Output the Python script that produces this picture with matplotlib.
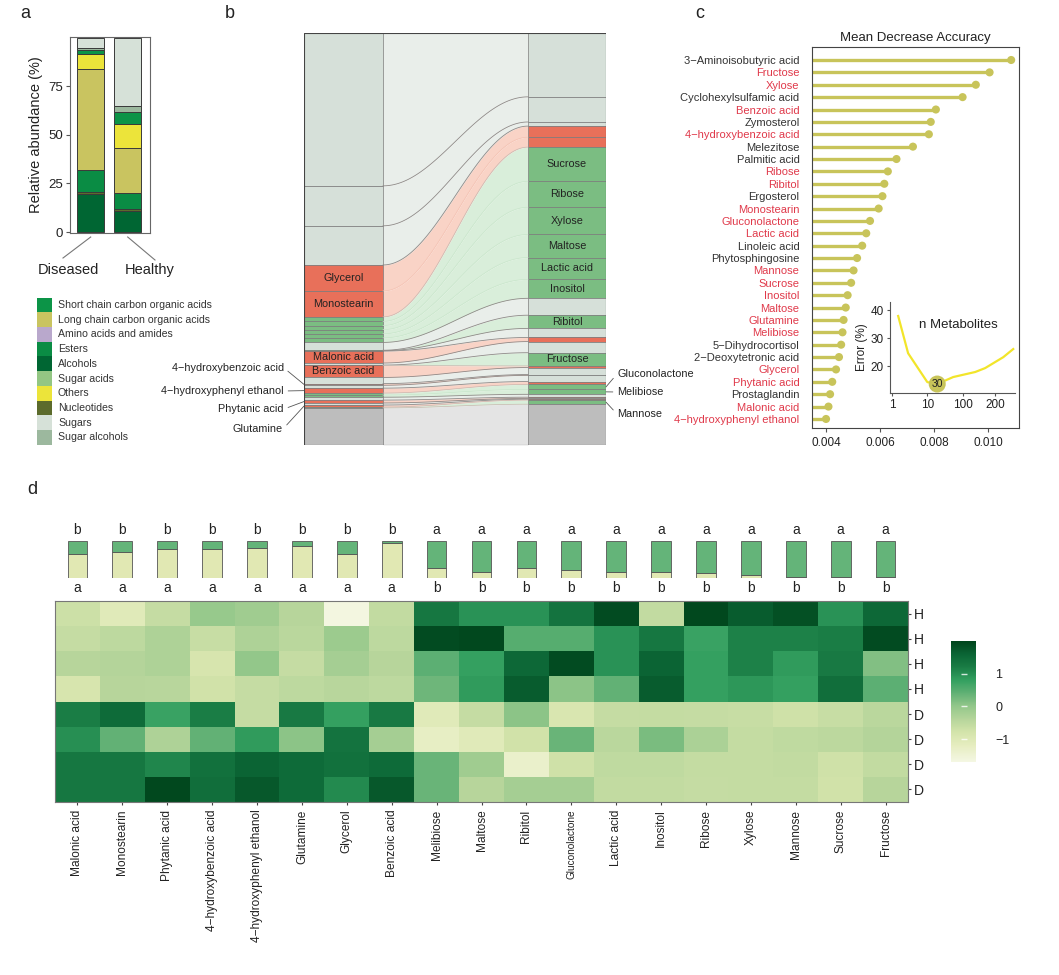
"""Metabolite composition, alluvial shift, RF importance and heatmap figure."""
import matplotlib

matplotlib.use("Agg")
import matplotlib.pyplot as plt
import numpy as np
from matplotlib.colors import LinearSegmentedColormap
from matplotlib.patches import Rectangle

plt.rcParams["font.family"] = ["Liberation Sans", "DejaVu Sans"]
plt.rcParams["axes.unicode_minus"] = True

W, H = 1059, 975
TXT = "#222222"

# ---- panel a: class composition -------------------------------------------
stack_classes = ["Alcohols", "Nucleotides", "Esters", "Long chain carbon organic acids",
                 "Others", "Short chain carbon organic acids", "Sugar alcohols", "Sugars"]
diseased = [19.6, 0.8, 11.6, 51.7, 7.6, 2.0, 1.4, 4.8]
healthy = [11.0, 0.7, 8.5, 23.0, 12.1, 6.3, 3.2, 34.7]
legend_classes = ["Short chain carbon organic acids", "Long chain carbon organic acids",
                  "Amino acids and amides", "Esters", "Alcohols", "Sugar acids", "Others",
                  "Nucleotides", "Sugars", "Sugar alcohols"]
class_colors = {
    "Short chain carbon organic acids": "#0c9447",
    "Long chain carbon organic acids": "#c9c460",
    "Amino acids and amides": "#b9a8cc",
    "Esters": "#0a8c44",
    "Alcohols": "#006633",
    "Sugar acids": "#93c683",
    "Others": "#ece43a",
    "Nucleotides": "#5c6b2c",
    "Sugars": "#d6e1d8",
    "Sugar alcohols": "#9cb89e",
}

# ---- panel b: alluvial (top to bottom), abundance % in Diseased / Healthy ---
flow_names = ["", "", "", "Glycerol", "Monostearin", "Sucrose", "Ribose", "Xylose",
              "Maltose", "Lactic acid", "Inositol", "", "Ribitol", "", "Malonic acid", "",
              "Fructose", "Benzoic acid", "", "4−hydroxybenzoic acid", "",
              "4−hydroxyphenyl ethanol", "Gluconolactone", "Melibiose", "", "Phytanic acid",
              "", "Glutamine", "Mannose", ""]
flow_groups = ["s", "s", "s", "D", "D", "H", "H", "H", "H", "H", "H", "s", "H", "s", "D", "s",
               "H", "D", "s", "D", "s", "D", "H", "H", "s", "D", "s", "D", "H", "o"]
left_abund = [37.1, 9.7, 9.5, 6.3, 6.3, 1.1, 1.0, 1.0, 1.0, 1.0, 1.1, 1.9, 0.1, 0.1, 2.9, 0.5,
              0.1, 2.9, 1.5, 0.4, 0.7, 1.2, 0.5, 0.5, 0.7, 0.7, 0.5, 0.5, 0.2, 9.0]
right_abund = [15.5, 6.1, 1.0, 2.7, 2.4, 8.3, 6.3, 6.6, 5.6, 5.3, 4.6, 4.1, 3.2, 2.2, 1.0, 2.7,
               3.2, 0.4, 1.7, 0.2, 1.5, 0.7, 1.2, 1.2, 0.7, 0.3, 0.2, 0.2, 1.0, 9.9]
left_inner = ["Glycerol", "Monostearin", "Malonic acid", "Benzoic acid"]
right_inner = ["Sucrose", "Ribose", "Xylose", "Maltose", "Lactic acid", "Inositol", "Ribitol",
               "Fructose"]
left_outer = ["4−hydroxybenzoic acid", "4−hydroxyphenyl ethanol", "Phytanic acid", "Glutamine"]
right_outer = ["Gluconolactone", "Melibiose", "Mannose"]

# ---- panel c: random forest importance -------------------------------------
rf_names = ["3−Aminoisobutyric acid", "Fructose", "Xylose", "Cyclohexylsulfamic acid",
            "Benzoic acid", "Zymosterol", "4−hydroxybenzoic acid", "Melezitose",
            "Palmitic acid", "Ribose", "Ribitol", "Ergosterol", "Monostearin",
            "Gluconolactone", "Lactic acid", "Linoleic acid", "Phytosphingosine", "Mannose",
            "Sucrose", "Inositol", "Maltose", "Glutamine", "Melibiose", "5−Dihydrocortisol",
            "2−Deoxytetronic acid", "Glycerol", "Phytanic acid", "Prostaglandin",
            "Malonic acid", "4−hydroxyphenyl ethanol"]
rf_mda = [0.01086, 0.01006, 0.00955, 0.00906, 0.00807, 0.00788, 0.00781, 0.00722, 0.00661,
          0.00629, 0.00616, 0.00609, 0.00595, 0.00563, 0.00549, 0.00534, 0.00515, 0.00502,
          0.00493, 0.00480, 0.00473, 0.00465, 0.00461, 0.00456, 0.00448, 0.00437, 0.00423,
          0.00415, 0.00409, 0.00400]
rf_marked = [0, 1, 1, 0, 1, 0, 1, 0, 0, 1, 1, 0, 1, 1, 1, 0, 0, 1, 1, 1, 1, 1, 1, 0, 0, 1, 1,
             0, 1, 1]
inset_pos = [0.17, 0.45, 0.99, 1.27, 1.72, 2.34, 2.62, 3.13, 3.41]
inset_err = [37.9, 24.6, 14.3, 13.6, 16.1, 17.9, 19.3, 23.2, 26.1]
inset_ticks = [0, 0.99, 2.0, 2.9]
inset_ticklabels = ["1", "10", "100", "200"]
best_idx = 3

# ---- panel d: heatmap -------------------------------------------------------
hm_cols = ["Malonic acid", "Monostearin", "Phytanic acid", "4−hydroxybenzoic acid",
           "4−hydroxyphenyl ethanol", "Glutamine", "Glycerol", "Benzoic acid", "Melibiose",
           "Maltose", "Ribitol", "Gluconolactone", "Lactic acid", "Inositol", "Ribose",
           "Xylose", "Mannose", "Sucrose", "Fructose"]
hm_rows = ["H", "H", "H", "H", "D", "D", "D", "D"]
hm_vals = np.array([
    [-0.7, -1.05, -0.6, -0.05, -0.15, -0.4, -1.65, -0.55, 1.3, 0.95, 0.95, 1.35, 1.9, -0.55, 1.95, 1.7, 1.85, 0.95, 1.55],
    [-0.6, -0.5, -0.3, -0.62, -0.3, -0.45, -0.1, -0.5, 1.9, 1.95, 0.5, 0.5, 0.95, 1.3, 0.75, 1.15, 1.15, 1.2, 1.9],
    [-0.4, -0.38, -0.3, -0.85, 0.0, -0.6, -0.2, -0.4, 0.45, 0.8, 1.55, 1.9, 0.95, 1.6, 0.8, 1.15, 0.85, 1.25, 0.15],
    [-0.85, -0.4, -0.42, -0.75, -0.6, -0.5, -0.42, -0.5, 0.3, 0.85, 1.7, 0.05, 0.4, 1.7, 0.8, 0.9, 0.8, 1.45, 0.45],
    [1.2, 1.5, 0.75, 1.2, -0.6, 1.25, 0.8, 1.25, -1.05, -0.6, 0.05, -0.9, -0.6, -0.58, -0.6, -0.62, -0.72, -0.62, -0.45],
    [1.0, 0.4, -0.3, 0.4, 0.85, 0.05, 1.35, -0.2, -1.25, -1.05, -0.75, 0.35, -0.45, 0.2, -0.28, -0.58, -0.52, -0.48, -0.38],
    [1.3, 1.3, 1.1, 1.4, 1.6, 1.5, 1.4, 1.5, 0.35, -0.15, -1.35, -0.72, -0.52, -0.52, -0.58, -0.58, -0.55, -0.72, -0.55],
    [1.3, 1.3, 1.95, 1.45, 1.75, 1.5, 1.05, 1.75, 0.35, -0.4, -0.2, -0.2, -0.55, -0.55, -0.6, -0.58, -0.58, -0.75, -0.4],
])
healthy_frac = [0.34, 0.29, 0.22, 0.21, 0.18, 0.125, 0.34, 0.06, 0.74, 0.85, 0.73, 0.78, 0.85,
                0.84, 0.87, 0.93, 0.98, 0.96, 0.97]
top_letters = ["b"] * 8 + ["a"] * 11
bottom_letters = ["a"] * 8 + ["b"] * 11


def box(x0, y0, x1, y1):
    return [x0 / W, 1 - y1 / H, (x1 - x0) / W, (y1 - y0) / H]


fig = plt.figure(figsize=(W / 100, H / 100), dpi=100)
bg = fig.add_axes([0, 0, 1, 1])
bg.set_xlim(0, W)
bg.set_ylim(H, 0)
bg.axis("off")

for letter, (lx, ly) in zip("abcd", [(25, 14), (230, 14), (700, 14), (32, 490)]):
    bg.text(lx, ly, letter, fontsize=13, ha="center", va="center", color=TXT)

# ---- panel a ----------------------------------------------------------------
ax = fig.add_axes(box(70, 37, 150, 233))
bottoms = np.zeros(2)
for cls, d, h in zip(stack_classes, diseased, healthy):
    ax.bar([1, 2], [d, h], bottom=bottoms, width=0.73, color=class_colors[cls],
           edgecolor="#3a3a3a", linewidth=0.7)
    bottoms += [d, h]
ax.set_xlim(0.446, 2.61)
ax.set_ylim(-0.5, 100.2)
ax.set_yticks([0, 25, 50, 75])
ax.set_xticks([])
ax.tick_params(axis="y", labelsize=9.5, length=3, color="#555", labelcolor=TXT, pad=2)
for sp in ax.spines.values():
    sp.set_color("#666")
    sp.set_linewidth(0.8)
ax.set_ylabel("Relative abundance (%)", fontsize=10.5, color=TXT, labelpad=4)

bg.plot([90.7, 63], [237, 258], color="#777", lw=0.8)
bg.plot([127.7, 155], [237, 260], color="#777", lw=0.8)
bg.text(68, 270, "Diseased", fontsize=10.5, ha="center", va="center", color=TXT)
bg.text(150, 270, "Healthy", fontsize=10.5, ha="center", va="center", color=TXT)

for i, cls in enumerate(legend_classes):
    yc = 305 + i * 14.7
    bg.add_patch(Rectangle((37, yc - 7.35), 15, 14.7, facecolor=class_colors[cls],
                           edgecolor="none"))
    bg.text(58, yc, cls, fontsize=7.6, va="center", ha="left", color="#333")

# ---- panel b ----------------------------------------------------------------
block_col = {"s": "#d6e0d9", "D": "#e8705a", "H": "#7bbd82", "o": "#bdbdbd"}
flow_col = {"s": "#e9eeea", "D": "#f9d3c6", "H": "#d9eeda", "o": "#e4e4e4"}
faint_col = {"D": "#f4c2b3", "H": "#c9e6cb", "o": "#d6d6d6"}
axb = fig.add_axes(box(304, 33, 606, 445))
axb.set_xlim(0, 1)
axb.set_ylim(100, 0)
axb.axis("off")
lcol = (383 - 304) / 302
rcol = (528 - 304) / 302
cumL = np.concatenate([[0], np.cumsum(left_abund)])
cumR = np.concatenate([[0], np.cumsum(right_abund)])
cumL *= 100 / cumL[-1]
cumR *= 100 / cumR[-1]
t = np.linspace(0, 1, 120)
xs = lcol + (rcol - lcol) * t
s = (1 - np.cos(np.pi * t)) / 2
for i, g in enumerate(flow_groups):
    top = cumL[i] + (cumR[i] - cumL[i]) * s
    bot = cumL[i + 1] + (cumR[i + 1] - cumL[i + 1]) * s
    axb.fill_between(xs, top, bot, color=flow_col[g], lw=0)
for i in range(1, len(flow_groups)):
    above, below = flow_groups[i - 1], flow_groups[i]
    if above == below and above != "s":
        col, lw = faint_col[above], 0.5
    elif "o" in (above, below) or {above, below} == {"D", "H"}:
        col, lw = "#c9b8b0", 0.5
    else:
        col, lw = "#8f8a88", 0.6
    axb.plot(xs, cumL[i] + (cumR[i] - cumL[i]) * s, color=col, lw=lw)
for i, g in enumerate(flow_groups):
    axb.add_patch(Rectangle((0, cumL[i]), lcol, cumL[i + 1] - cumL[i], facecolor=block_col[g],
                            edgecolor="#7a7a7a", lw=0.5))
    axb.add_patch(Rectangle((rcol, cumR[i]), 1 - rcol, cumR[i + 1] - cumR[i],
                            facecolor=block_col[g], edgecolor="#7a7a7a", lw=0.5))
axb.add_patch(Rectangle((0, 0), 1, 100, fill=False, edgecolor="#444", lw=0.8))
for name in left_inner:
    i = flow_names.index(name)
    axb.text(lcol / 2, (cumL[i] + cumL[i + 1]) / 2, name, fontsize=7.8, ha="center",
             va="center", color=TXT)
for name in right_inner:
    i = flow_names.index(name)
    axb.text((rcol + 1) / 2, (cumR[i] + cumR[i + 1]) / 2, name, fontsize=7.8, ha="center",
             va="center", color=TXT)
for name, (tx, ty) in zip(left_outer, [(284, 368), (284, 391), (284, 409), (283, 429)]):
    i = flow_names.index(name)
    axb.annotate(name, xy=(0, (cumL[i] + cumL[i + 1]) / 2), xytext=(tx, ty),
                 textcoords=bg.transData, fontsize=7.8, ha="right", va="center", color=TXT,
                 annotation_clip=False,
                 arrowprops=dict(arrowstyle="-", color="#555", lw=0.6, shrinkA=1, shrinkB=0,
                                 relpos=(1, 0.5)))
for name, (tx, ty) in zip(right_outer, [(617, 374), (617, 392), (617, 414)]):
    i = flow_names.index(name)
    axb.annotate(name, xy=(1, (cumR[i] + cumR[i + 1]) / 2), xytext=(tx, ty),
                 textcoords=bg.transData, fontsize=7.8, ha="left", va="center", color=TXT,
                 annotation_clip=False,
                 arrowprops=dict(arrowstyle="-", color="#555", lw=0.6, shrinkA=1, shrinkB=0,
                                 relpos=(0, 0.5)))

# ---- panel c ----------------------------------------------------------------
lolli = "#c8c45a"
axc = fig.add_axes(box(812, 47, 1019, 428))
yy = np.arange(len(rf_names))
xmin = 0.00348
axc.hlines(yy, xmin, rf_mda, color=lolli, lw=2.4)
axc.scatter(rf_mda, yy, s=34, color=lolli, zorder=3, edgecolors="none")
axc.set_xlim(xmin, 0.01115)
axc.set_ylim(29.73, -1.05)
axc.set_yticks(yy, rf_names)
axc.set_xticks([0.004, 0.006, 0.008, 0.010], ["0.004", "0.006", "0.008", "0.010"])
axc.tick_params(axis="y", length=0, pad=9, labelsize=8)
axc.tick_params(axis="x", length=3, labelsize=8.5, color="#555", labelcolor=TXT)
for lab, red in zip(axc.get_yticklabels(), rf_marked):
    lab.set_color("#e0394a" if red else "#333333")
for sp in axc.spines.values():
    sp.set_color("#444")
    sp.set_linewidth(0.8)
axc.set_title("Mean Decrease Accuracy", fontsize=9.5, color=TXT, pad=4)

axi = fig.add_axes(box(890, 302, 1015, 393))
axi.patch.set_alpha(0)
axi.plot(inset_pos, inset_err, color="#f2e52a", lw=1.6)
axi.scatter([inset_pos[best_idx]], [inset_err[best_idx]], s=150, color="#c8c45a", zorder=3,
            edgecolors="none")
axi.text(inset_pos[best_idx], inset_err[best_idx], "30", fontsize=7.5, ha="center",
         va="center", color=TXT, zorder=4)
axi.set_xlim(-0.06, 3.46)
axi.set_ylim(10.4, 42.9)
axi.set_xticks(inset_ticks, inset_ticklabels)
axi.set_yticks([20, 30, 40])
axi.tick_params(labelsize=8.5, length=2.5, color="#555", labelcolor=TXT, pad=2)
axi.spines[["top", "right"]].set_visible(False)
for sp in ("left", "bottom"):
    axi.spines[sp].set_color("#555")
    axi.spines[sp].set_linewidth(0.8)
axi.set_ylabel("Error (%)", fontsize=8.5, color=TXT, labelpad=2)
axi.text(0.55, 0.75, "n Metabolites", transform=axi.transAxes, fontsize=9.5, ha="center",
         va="center", color=TXT)

# ---- panel d ----------------------------------------------------------------
cmap = LinearSegmentedColormap.from_list("hm", [
    (0.0, "#f4f7e3"), (0.5 / 3.7, "#e6edc0"), (0.9 / 3.7, "#d4e4ab"), (1.3 / 3.7, "#b6d59b"),
    (1.7 / 3.7, "#93c78a"), (2.1 / 3.7, "#62b175"), (2.5 / 3.7, "#33a060"),
    (2.9 / 3.7, "#1a7d45"), (3.3 / 3.7, "#0b6535"), (1.0, "#00441b")])
vmin, vmax = -1.7, 2.0

axm = fig.add_axes(box(55, 541, 908, 578))
axm.set_xlim(0, len(hm_cols))
axm.set_ylim(0, 1)
axm.axis("off")
xc = np.arange(len(hm_cols)) + 0.5
hf = np.array(healthy_frac)
axm.bar(xc, 1 - hf, width=0.44, color="#e1e8b3", edgecolor="#555", lw=0.6)
axm.bar(xc, hf, bottom=1 - hf, width=0.44, color="#64b479", edgecolor="#555", lw=0.6)
for x, tl, bl in zip(xc, top_letters, bottom_letters):
    axm.text(x, 1.1, tl, fontsize=10, ha="center", va="bottom", color=TXT)
    axm.text(x, -0.08, bl, fontsize=10, ha="center", va="top", color=TXT)

axh = fig.add_axes(box(55, 601, 908, 802))
mesh = axh.pcolormesh(np.arange(len(hm_cols) + 1), np.arange(len(hm_rows) + 1), hm_vals,
                      cmap=cmap, vmin=vmin, vmax=vmax, edgecolors="none")
axh.set_ylim(len(hm_rows), 0)
axh.set_xticks(xc, hm_cols, rotation=90)
for lab in axh.get_xticklabels():
    lab.set_fontsize(7.2 if lab.get_text() == "Gluconolactone" else 8.6)
axh.set_yticks(np.arange(len(hm_rows)) + 0.5, hm_rows)
axh.yaxis.tick_right()
axh.tick_params(axis="y", labelsize=10, length=2.5, pad=2, color="#444", labelcolor=TXT)
axh.tick_params(axis="x", length=2.5, pad=3, color="#444", labelcolor=TXT)
for sp in axh.spines.values():
    sp.set_color("#777")
    sp.set_linewidth(0.8)

cax = fig.add_axes(box(951, 641, 976, 762))
cb = fig.colorbar(mesh, cax=cax)
cb.outline.set_visible(False)
cb.set_ticks([1, 0, -1])
cax.tick_params(length=0, pad=14, labelsize=9, labelcolor=TXT)
cax.hlines([1, 0, -1], 0.38, 0.62, color="white", lw=1, alpha=0.8)

fig.savefig("out.png", dpi=100, facecolor="white")
